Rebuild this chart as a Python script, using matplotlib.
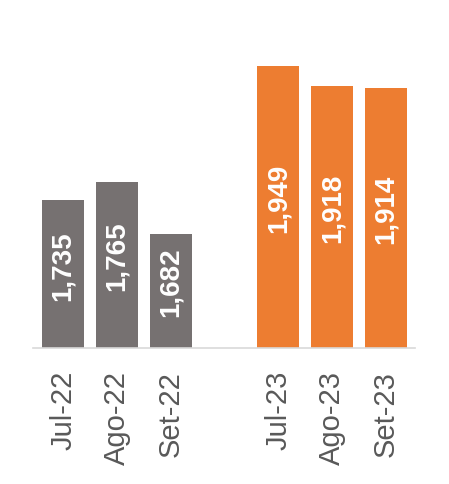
import matplotlib.pyplot as plt

months = ['Jul-22', 'Ago-22', 'Set-22', 'Jul-23', 'Ago-23', 'Set-23']
values = [1735, 1765, 1682, 1949, 1918, 1914]
positions = [0, 1, 2, 4, 5, 6]
colors = ['#767171'] * 3 + ['#ED7D31'] * 3

plt.rcParams['font.family'] = ['Liberation Sans', 'DejaVu Sans']

fig = plt.figure(figsize=(4.49, 4.85), dpi=100)
ax = fig.add_axes([0.0735, 0.281, 0.85, 0.646])

ymin = 1500
bars = ax.bar(positions, [v - ymin for v in values], bottom=ymin,
              width=0.78, color=colors)

# value labels, rotated inside the bars
for x, v in zip(positions, values):
    ax.text(x, (v + ymin) / 2 + 15, f'{v:,}', rotation=90, ha='center', va='center',
            color='white', fontsize=20, fontweight='bold')

ax.set_ylim(ymin, 2000)
ax.set_xlim(-0.56, 6.53)
ax.set_xticks(positions)
ax.set_xticklabels(months, rotation=90, fontsize=21, color='#595959')
ax.tick_params(axis='x', length=0, pad=16)
ax.set_yticks([])
for side in ['top', 'right', 'left']:
    ax.spines[side].set_visible(False)
ax.spines['bottom'].set_color('#D9D9D9')
ax.spines['bottom'].set_linewidth(1.2)

fig.savefig('out.png', dpi=100)
